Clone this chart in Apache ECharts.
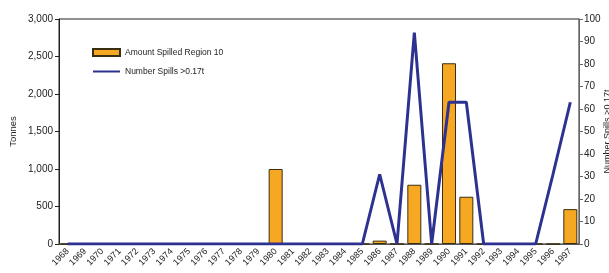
<!DOCTYPE html>
<html>
<head>
<meta charset="utf-8">
<script src="https://cdn.jsdelivr.net/npm/echarts@6/dist/echarts.min.js"></script>
<style>
  html, body { margin: 0; padding: 0; background: #fff; }
  #chart { width: 609px; height: 273px; }
</style>
</head>
<body>
<div id="chart"></div>
<script>
var years = ['1968','1969','1970','1971','1972','1973','1974','1975','1976','1977',
             '1978','1979','1980','1981','1982','1983','1984','1985','1986','1987',
             '1988','1989','1990','1991','1992','1993','1994','1995','1996','1997'];
// tonnes spilled
var amountSpilled = [0,0,0,0,0,0,0,0,0,0, 0,0,1000,0,0,0,0,0,45,0, 790,0,2410,630,0,0,0,0,0,465];
// number of spills > 0.17t
var numberSpills = [0,0,0,0,0,0,0,0,0,0, 0,0,0,0,0,0,0,0,31,0, 94,0,63,63,0,0,0,0,31,63];
var leftTicks = [0, 500, 1000, 1500, 2000, 2500, 3000];
var rightTicks = [0, 10, 20, 30, 40, 50, 60, 70, 80, 90, 100];

var font = 'Liberation Sans, Arial, sans-serif';
var chart = echarts.init(document.getElementById('chart'));

var option = {
  animation: false,
  textStyle: { fontFamily: font },
  grid: {
    left: 59, right: 30, top: 19, bottom: 29,
    outerBoundsMode: 'none',
    containLabel: false,
    show: true, borderColor: '#222', borderWidth: 1
  },
  legend: {
    orient: 'vertical',
    left: 92, top: 48,
    padding: 0,
    itemGap: 10,
    itemWidth: 27, itemHeight: 7,
    textStyle: { fontSize: 8.5, color: '#222', fontFamily: font },
    data: [
      { name: 'Amount Spilled Region 10', icon: 'rect' },
      { name: 'Number Spills >0.17t', itemStyle: { opacity: 0 } }
    ]
  },
  xAxis: {
    type: 'category',
    data: years,
    axisLine: { lineStyle: { color: '#555' } },
    axisTick: { length: 4, lineStyle: { color: '#555' } },
    axisLabel: { rotate: 45, interval: 0, fontSize: 9, color: '#222', margin: 6 }
  },
  yAxis: [
    {
      type: 'value',
      name: 'Tonnes',
      nameLocation: 'middle',
      nameGap: 41,
      nameMoveOverlap: false,
      nameTextStyle: { fontSize: 9.5, color: '#222' },
      min: leftTicks[0], max: leftTicks[leftTicks.length - 1], interval: 500,
      splitLine: { show: false },
      axisLine: { show: true, lineStyle: { color: '#222' } },
      axisTick: { show: true, length: 4, lineStyle: { color: '#222' } },
      axisLabel: {
        fontSize: 10, color: '#222', margin: 6,
        formatter: function (v) { return v.toLocaleString('en-US'); }
      }
    },
    {
      type: 'value',
      name: 'Number Spills >0.17t',
      nameLocation: 'middle',
      nameGap: 24,
      nameRotate: 90,
      nameMoveOverlap: false,
      nameTextStyle: { fontSize: 9, color: '#222' },
      min: rightTicks[0], max: rightTicks[rightTicks.length - 1], interval: 10,
      splitLine: { show: false },
      axisLine: { show: true, lineStyle: { color: '#666' } },
      axisTick: { show: true, length: 4, lineStyle: { color: '#666' } },
      axisLabel: { fontSize: 10, color: '#222', margin: 5 }
    }
  ],
  series: [
    {
      name: 'Amount Spilled Region 10',
      type: 'bar',
      yAxisIndex: 0,
      barWidth: 14,
      data: amountSpilled,
      itemStyle: { color: '#f7a823', borderColor: '#3a2e10', borderWidth: 1 }
    },
    {
      name: 'Number Spills >0.17t',
      type: 'line',
      yAxisIndex: 1,
      data: numberSpills,
      symbol: 'none',
      lineStyle: { color: '#2d3290', width: 3 },
      itemStyle: { color: '#2d3290' }
    }
  ]
};

chart.setOption(option);
</script>
</body>
</html>
